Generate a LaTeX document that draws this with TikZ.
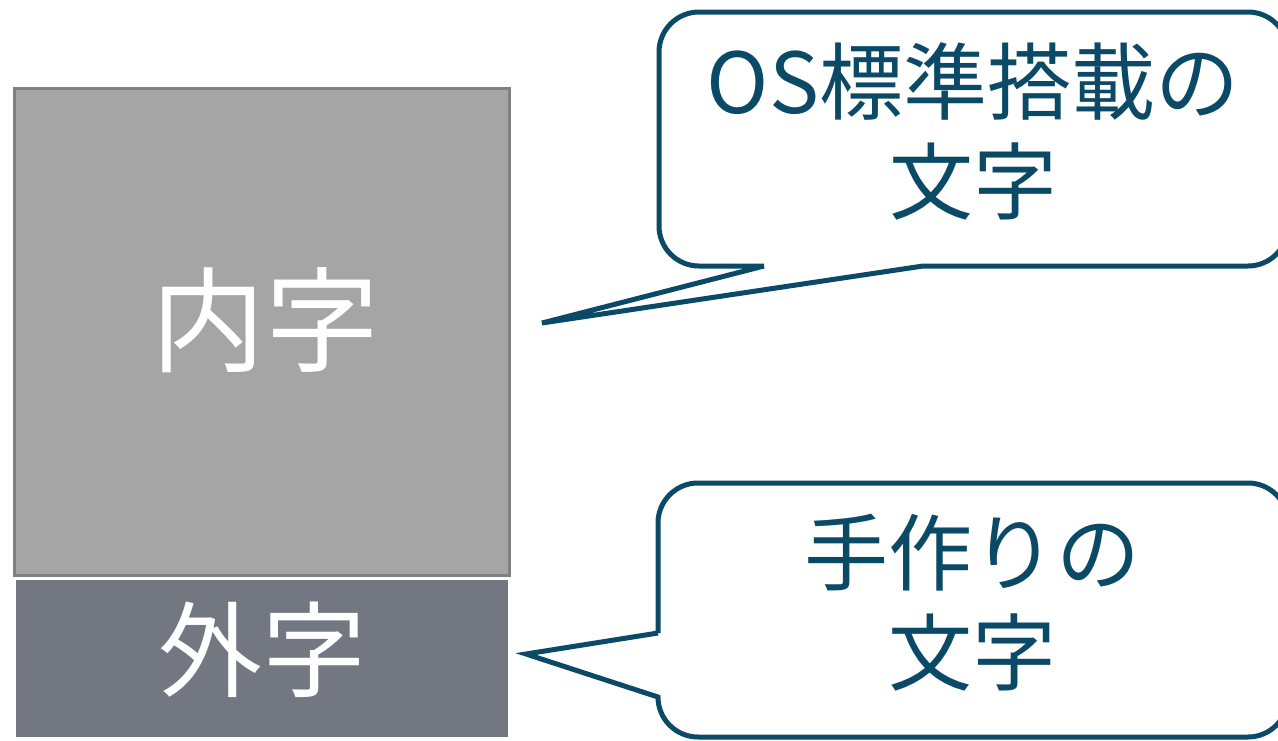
\documentclass[tikz,border=0pt]{standalone}
\usepackage{fontspec}
\newfontfamily\jpfont{Noto Sans CJK JP}
\definecolor{teal}{HTML}{0B4A66}
\definecolor{lightgray}{HTML}{A5A5A5}
\definecolor{lightborder}{HTML}{808080}
\definecolor{slate}{HTML}{737782}
\tikzset{
  callout/.style={draw=teal, line width=5pt, line join=miter, fill=white},
  bigtext/.style={text=white, font=\jpfont\fontsize{104}{110}\selectfont, inner sep=0pt},
  calltext/.style={text=teal, font=\jpfont\fontsize{84}{100}\selectfont, align=center, inner sep=0pt},
}
\begin{document}
\begin{tikzpicture}[x=1pt,y=-1pt]
\useasboundingbox (0,0) rectangle (1278,740);
\clip (0,0) rectangle (1278,740);
\fill[white] (0,0) rectangle (1278,740);
% boxes
\draw[fill=lightgray, draw=lightborder, line width=3pt] (14.5,88.5) rectangle (509.5,575.5);
\fill[slate] (16,580) rectangle (508,737);
\node[bigtext, font=\jpfont\fontsize{114}{120}\selectfont] (inner) at (265,320) {内字};
\node[bigtext] (outer) at (262,650) {外字};
% callouts
\coordinate (tipA) at (542,323);
\coordinate (tipB) at (526,654);
\draw[callout] (764,266) -- (tipA) -- (923,266) [rounded corners=40pt] -- (1288,266) -- (1288,12) -- (659,12) -- (659,266) -- (764,266);
\draw[callout] (658,633) -- (tipB) -- (658,697) [rounded corners=40pt] -- (658,737) -- (1288,737) -- (1288,483) -- (658,483) -- (658,633);
\node[calltext] (osText) at (973,131) {OS標準搭載の\\文字};
\node[calltext] (handText) at (972,603) {手作りの\\文字};
\end{tikzpicture}
\end{document}
